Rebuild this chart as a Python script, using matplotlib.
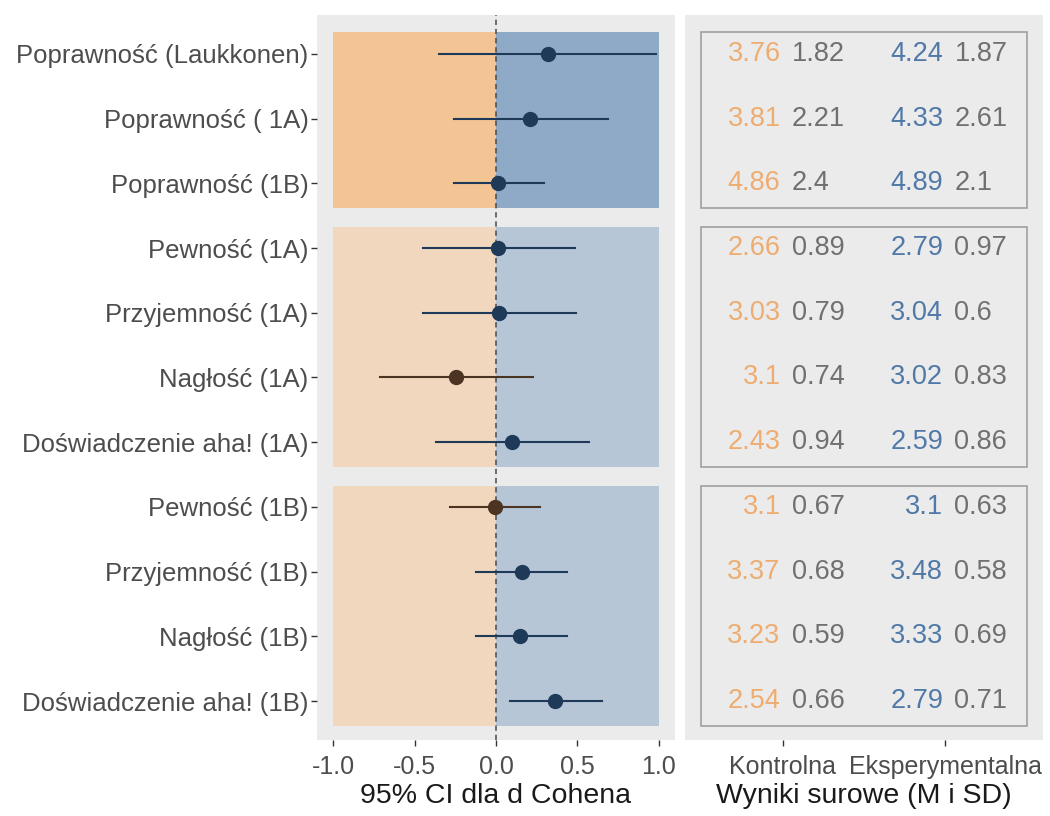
import matplotlib
matplotlib.use("Agg")
import matplotlib.pyplot as plt
import numpy as np

plt.rcParams['font.family'] = ['Liberation Sans', 'DejaVu Sans']

# outcomes, top to bottom
labels = ['Poprawność (Laukkonen)', 'Poprawność ( 1A)', 'Poprawność (1B)',
          'Pewność (1A)', 'Przyjemność (1A)', 'Nagłość (1A)', 'Doświadczenie aha! (1A)',
          'Pewność (1B)', 'Przyjemność (1B)', 'Nagłość (1B)', 'Doświadczenie aha! (1B)']
group = [1, 1, 1, 2, 2, 2, 2, 3, 3, 3, 3]

# Cohen's d with 95% CI
d_est = [0.32, 0.21, 0.01, 0.01, 0.02, -0.245, 0.10, -0.005, 0.16, 0.15, 0.36]
ci_lo = [-0.35, -0.26, -0.26, -0.45, -0.45, -0.71, -0.37, -0.28, -0.12, -0.12, 0.085]
ci_hi = [0.985, 0.69, 0.295, 0.485, 0.49, 0.225, 0.57, 0.27, 0.435, 0.437, 0.65]

# raw scores (M, SD)
m_ctrl = [3.76, 3.81, 4.86, 2.66, 3.03, 3.1, 2.43, 3.1, 3.37, 3.23, 2.54]
sd_ctrl = [1.82, 2.21, 2.4, 0.89, 0.79, 0.74, 0.94, 0.67, 0.68, 0.59, 0.66]
m_exp = [4.24, 4.33, 4.89, 2.79, 3.04, 3.02, 2.59, 3.1, 3.48, 3.33, 2.79]
sd_exp = [1.87, 2.61, 2.1, 0.97, 0.6, 0.83, 0.86, 0.63, 0.58, 0.69, 0.71]
groups_x = ['Kontrolna', 'Eksperymentalna']

# colours
panel_bg = '#ebebeb'
orange_strong, blue_strong = '#f3c494', '#8eaac6'
orange_soft, blue_soft = '#f0d7bd', '#b6c6d7'
col_pos, col_neg = '#1e3a58', '#4b3522'
col_m_ctrl, col_m_exp, col_sd = '#eeac70', '#5079a8', '#707070'
txt_grey = '#4d4d4d'

n = len(labels)
y = np.arange(n, 0, -1)
grp = np.array(group)

fig = plt.figure(figsize=(10.5, 8.16), dpi=100)
ax1 = fig.add_axes([317 / 1050, 76 / 816, 358 / 1050, 725 / 816])
ax2 = fig.add_axes([685 / 1050, 76 / 816, 358 / 1050, 725 / 816])

for ax in (ax1, ax2):
    ax.set_facecolor(panel_bg)
    for s in ax.spines.values():
        s.set_visible(False)
    ax.set_ylim(0.4, n + 0.6)
    ax.tick_params(axis='both', colors='#333333', labelcolor=txt_grey,
                   labelsize=18.5, length=4, width=1, pad=2)
    ax.tick_params(axis='x', labelsize=18, pad=7)

# ---- left: forest plot ----
for g in sorted(set(group)):
    ys = y[grp == g]
    top, bot = ys.max() + 0.33, ys.min() - 0.38
    oc, bc = (orange_strong, blue_strong) if g == 1 else (orange_soft, blue_soft)
    ax1.fill_between([-1, 0], bot, top, color=oc, linewidth=0, zorder=1)
    ax1.fill_between([0, 1], bot, top, color=bc, linewidth=0, zorder=1)

ax1.axvline(0, color='#4a4a4a', linestyle=(0, (3.5, 2.5)), linewidth=1.1, zorder=2)

for yi, d, lo, hi in zip(y, d_est, ci_lo, ci_hi):
    c = col_neg if d < 0 else col_pos
    ax1.plot([lo, hi], [yi, yi], color=c, linewidth=1.5, zorder=3)
    ax1.plot(d, yi, 'o', color=c, markersize=10, zorder=4)

ax1.set_xlim(-1.1, 1.1)
ax1.set_xticks([-1.0, -0.5, 0.0, 0.5, 1.0])
ax1.set_xticklabels(['-1.0', '-0.5', '0.0', '0.5', '1.0'])
ax1.set_yticks(y)
ax1.set_yticklabels(labels)
ax1.set_xlabel('95% CI dla d Cohena', fontsize=20.5, color='#1a1a1a', labelpad=3)

# ---- right: raw scores ----
for g in sorted(set(group)):
    ys = y[grp == g]
    top, bot = ys.max() + 0.33, ys.min() - 0.38
    ax2.add_patch(plt.Rectangle((0.5, bot), 2.0, top - bot, fill=False,
                                edgecolor='#9a9a9a', linewidth=1.1, zorder=2))

for yi, mc, sc, me, se in zip(y, m_ctrl, sd_ctrl, m_exp, sd_exp):
    for xpos, m, s in ((1, mc, sc), (2, me, se)):
        mcol = col_m_ctrl if xpos == 1 else col_m_exp
        ax2.annotate(f'{m:g}', (xpos, yi), xytext=(-1.5, 0), textcoords='offset points',
                     ha='right', va='center', fontsize=19.5, color=mcol, zorder=3)
        ax2.annotate(f'{s:g}', (xpos, yi), xytext=(6.5, 0), textcoords='offset points',
                     ha='left', va='center', fontsize=19.5, color=col_sd, zorder=3)

ax2.set_xlim(0.4, 2.6)
ax2.set_xticks([1, 2])
ax2.set_xticklabels(groups_x)
ax2.set_yticks([])
ax2.set_xlabel('Wyniki surowe (M i SD)', fontsize=20.5, color='#1a1a1a', labelpad=3)

fig.savefig('out.png', dpi=100, facecolor='white')
